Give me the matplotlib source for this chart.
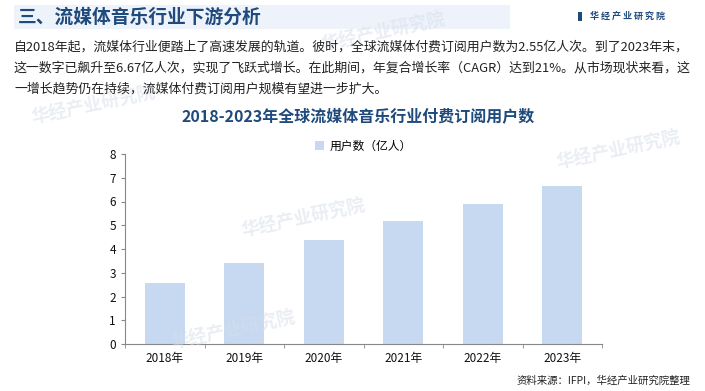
import matplotlib
matplotlib.use("Agg")
import matplotlib.pyplot as plt
from matplotlib.patches import Rectangle

plt.rcParams['font.family'] = ['Noto Sans CJK SC', 'DejaVu Sans']

categories = ['2018年', '2019年', '2020年', '2021年', '2022年', '2023年']
users = [2.55, 3.42, 4.38, 5.18, 5.90, 6.67]
yticks = [0, 1, 2, 3, 4, 5, 6, 7, 8]

header_title = '三、流媒体音乐行业下游分析'
logo_text = '华经产业研究院'
paragraph = ['自2018年起，流媒体行业便踏上了高速发展的轨道。彼时，全球流媒体付费订阅用户数为2.55亿人次。到了2023年末，',
             '这一数字已飙升至6.67亿人次，实现了飞跃式增长。在此期间，年复合增长率（CAGR）达到21%。从市场现状来看，这',
             '一增长趋势仍在持续，流媒体付费订阅用户规模有望进一步扩大。']
chart_title = '2018-2023年全球流媒体音乐行业付费订阅用户数'
legend_label = '用户数（亿人）'
source = '资料来源：IFPI，华经产业研究院整理'

W, H = 705, 391
fig = plt.figure(figsize=(W/100, H/100), dpi=100)

def fx(px): return px / W
def fy(py): return 1 - py / H

# header band
fig.patches.append(Rectangle((fx(14), fy(29)), fx(510) - fx(14), fy(5) - fy(29),
                             transform=fig.transFigure, facecolor='#EEF3FB', edgecolor='none', zorder=0))
fig.text(fx(18), fy(17), header_title, fontsize=13.5, fontweight='bold', color='#1F4A7C', va='center')
fig.patches.append(Rectangle((fx(578), fy(21)), fx(4) - fx(0), fy(12) - fy(21),
                             transform=fig.transFigure, facecolor='#1F4A7C', edgecolor='none'))
fig.text(fx(590), fy(16.5), '华 经 产 业 研 究 院', fontsize=6.5, fontweight='bold', color='#1F4A7C', va='center')

# watermarks
for (x, y) in [(320, 32), (30, 105), (240, 218), (555, 150), (170, 330)]:
    fig.text(fx(x), fy(y), logo_text, fontsize=13, fontweight='bold', color='#D5DEEA',
             alpha=0.5, rotation=12, va='center', zorder=0)

for i, line in enumerate(paragraph):
    fig.text(fx(14), fy(47 + i * 21), line, fontsize=9.3, color='#222222', va='center')

fig.text(fx(358), fy(116), chart_title, fontsize=11.5, fontweight='bold', color='#1F4A7C',
         ha='center', va='center')

ax = fig.add_axes([fx(125), fy(344), fx(602) - fx(125), fy(154) - fy(344)])
ax.patch.set_alpha(0)
x = list(range(len(categories)))
ax.bar(x, users, width=0.5, color='#C6D9F1', label=legend_label, zorder=2)
ax.set_xlim(-0.5, len(categories) - 0.5)
ax.set_ylim(0, 8)
ax.set_yticks(yticks)
ax.set_xticks(x)
ax.set_xticklabels(categories)
ax.set_xticks([i + 0.5 for i in range(-1, len(categories))], minor=True)
ax.tick_params(axis='x', which='major', length=0, labelsize=8.5, pad=6, colors='#111111')
ax.tick_params(axis='x', which='minor', length=3, color='#888888')
ax.tick_params(axis='y', labelsize=8.5, length=3, color='#888888', colors='#111111')
for s in ['top', 'right']:
    ax.spines[s].set_visible(False)
ax.spines['left'].set_color('#888888')
ax.spines['bottom'].set_color('#888888')
ax.legend(loc='lower center', bbox_to_anchor=(0.5, 0.98), frameon=False, fontsize=8.5,
          handlelength=0.8, handleheight=0.8, handletextpad=0.5, borderaxespad=0)

fig.text(fx(690), fy(381), source, fontsize=7.5, color='#222222', ha='right', va='center')

fig.savefig('out.png', dpi=100)
